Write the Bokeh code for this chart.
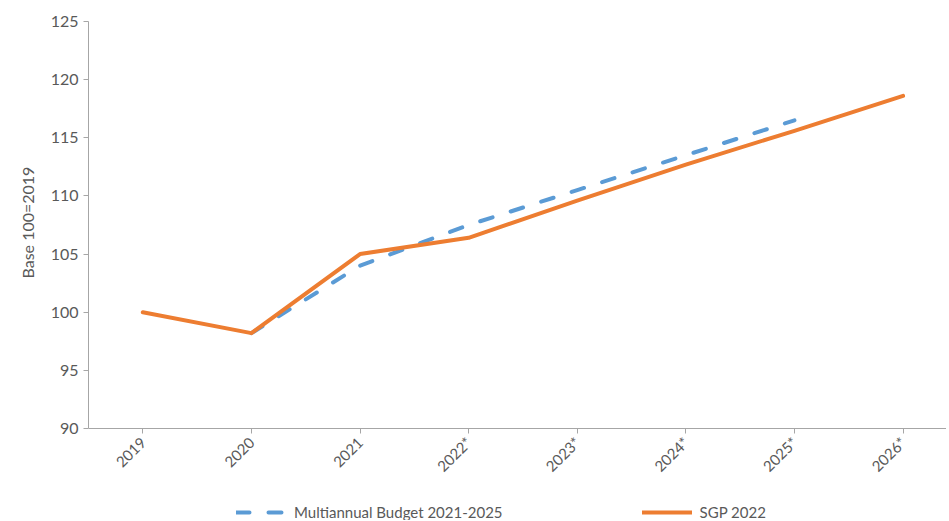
import math
from bokeh.plotting import figure
from bokeh.models import ColumnDataSource, Range1d, FixedTicker, Legend, LegendItem, Title
from bokeh.embed import file_html
from bokeh.resources import INLINE

years = ["2019", "2020", "2021", "2022*", "2023*", "2024*", "2025*", "2026*"]
sgp_2022 = [100.0, 98.2, 105.0, 106.4, 109.6, 112.7, 115.6, 118.6]
multiannual = [float("nan"), 98.2, 104.0, 107.5, 110.5, 113.5, 116.5, float("nan")]
y_ticks = [90, 95, 100, 105, 110, 115, 120, 125]

xs = list(range(len(years)))
src = ColumnDataSource(dict(x=xs, sgp=sgp_2022, mab=multiannual))

FONT = "Lato"
TXT = "#595959"
AX = "#a6a6a6"

# frame extends below the 90 baseline to host tick labels and legend
FRAME_H = 499
Y_BOTTOM = 125 - FRAME_H * 35 / 407

p = figure(frame_width=858, frame_height=FRAME_H, output_backend="svg", toolbar_location=None,
           x_range=Range1d(-0.5, 7.4), y_range=Range1d(Y_BOTTOM, 125),
           min_border_left=88, min_border_top=21, min_border_right=0,
           min_border_bottom=0)
p.outline_line_color = None
p.xgrid.grid_line_color = None
p.ygrid.grid_line_color = None

r_mab = p.line("x", "mab", source=src, line_color="#5B9BD5", line_width=4,
               line_dash="13 19", line_cap="round")
r_sgp = p.line("x", "sgp", source=src, line_color="#ED7D31", line_width=4,
               line_cap="round", line_join="round")

xa = p.xaxis[0]
xa.fixed_location = 90
xa.ticker = FixedTicker(ticks=xs)
xa.major_label_overrides = {i: y for i, y in enumerate(years)}
xa.major_label_orientation = math.pi / 4
xa.minor_tick_line_color = None
xa.axis_line_color = AX
xa.major_tick_line_color = AX
xa.major_tick_in = 0
xa.major_tick_out = 5
xa.major_label_text_font = FONT
xa.major_label_text_font_size = "15px"
xa.major_label_text_color = TXT
xa.major_label_standoff = 6

ya = p.yaxis[0]
ya.ticker = FixedTicker(ticks=y_ticks)
ya.bounds = (90, 125)
ya.minor_tick_line_color = None
ya.axis_line_color = AX
ya.major_tick_line_color = AX
ya.major_tick_in = 0
ya.major_tick_out = 5
ya.major_label_text_font = FONT
ya.major_label_text_font_size = "16px"
ya.major_label_text_color = TXT
ya.major_label_standoff = 5

ytitle = Title(text="Base 100=2019", align="left", offset=242, standoff=22,
               text_font=FONT, text_font_size="16px", text_font_style="normal",
               text_color=TXT)
p.add_layout(ytitle, "left")

legend = Legend(items=[LegendItem(label="Multiannual Budget 2021-2025", renderers=[r_mab]),
                       LegendItem(label="SGP 2022", renderers=[r_sgp])],
                orientation="horizontal", location=(148, -1),
                spacing=139, glyph_width=50, glyph_height=18, label_height=18,
                label_standoff=8,
                label_text_font=FONT, label_text_font_size="15px",
                label_text_color=TXT, border_line_color=None,
                background_fill_alpha=0, padding=0, margin=0)
p.add_layout(legend, "center")

open("out.html", "w").write(file_html(p, INLINE))
